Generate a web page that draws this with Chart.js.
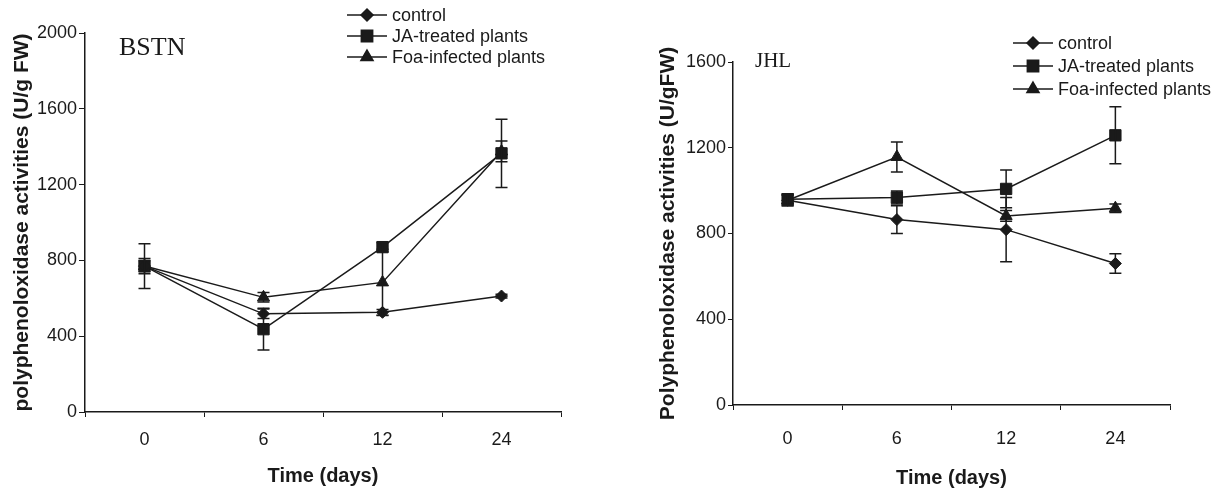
<!DOCTYPE html>
<html>
<head>
<meta charset="utf-8">
<script src="https://cdn.jsdelivr.net/npm/chart.js@4.4.0/dist/chart.umd.min.js"></script>
<style>
  body { margin: 0; background: #fff; width: 1222px; height: 490px; position: relative; overflow: hidden; }
  canvas { position: absolute; top: 0; }
  #bstn { left: 0; }
  #jhl { left: 611px; }
</style>
</head>
<body>
<canvas id="bstn" width="611" height="490"></canvas>
<canvas id="jhl" width="611" height="490"></canvas>
<script>
// data
const days = ['0', '6', '12', '24'];
const seriesNames = ['control', 'JA-treated plants', 'Foa-infected plants'];

const bstnControl = [770, 518, 526, 612];
const bstnControlErr = [118, 25, 15, 10];
const bstnJA = [770, 437, 870, 1365];
const bstnJAErr = [40, 110, 25, 180];
const bstnFoa = [770, 605, 684, 1375];
const bstnFoaErr = [30, 25, 175, 55];

const jhlControl = [955, 865, 818, 660];
const jhlControlErr = [25, 65, 150, 45];
const jhlJA = [960, 968, 1008, 1258];
const jhlJAErr = [25, 30, 88, 133];
const jhlFoa = [955, 1157, 882, 918];
const jhlFoaErr = [25, 70, 25, 20];

const markers = ['rectRot', 'rect', 'triangle'];
const markerSize = [6, 8, 7];
const ink = '#1a1a1a';
const sans = "'Liberation Sans', Arial, sans-serif";

const errorBars = {
  id: 'errorBars',
  afterDatasetsDraw(chart) {
    const ctx = chart.ctx;
    const y = chart.scales.y;
    ctx.save();
    ctx.strokeStyle = ink;
    ctx.lineWidth = 1.5;
    chart.data.datasets.forEach((ds, i) => {
      const meta = chart.getDatasetMeta(i);
      meta.data.forEach((pt, j) => {
        const v = ds.data[j], e = ds.errors[j];
        const top = y.getPixelForValue(v + e);
        const bot = y.getPixelForValue(v - e);
        ctx.beginPath();
        ctx.moveTo(pt.x, top); ctx.lineTo(pt.x, bot);
        ctx.moveTo(pt.x - 6, top); ctx.lineTo(pt.x + 6, top);
        ctx.moveTo(pt.x - 6, bot); ctx.lineTo(pt.x + 6, bot);
        ctx.stroke();
      });
    });
    ctx.restore();
  }
};

const sideLegend = {
  id: 'sideLegend',
  afterDraw(chart, args, opts) {
    const ctx = chart.ctx;
    ctx.save();
    ctx.font = '18px ' + sans;
    ctx.textBaseline = 'middle';
    ctx.fillStyle = ink;
    chart.data.datasets.forEach((ds, i) => {
      const yy = opts.y + i * opts.gap;
      ctx.strokeStyle = ink;
      ctx.lineWidth = 1.5;
      ctx.beginPath();
      ctx.moveTo(opts.x, yy); ctx.lineTo(opts.x + 40, yy);
      ctx.stroke();
      Chart.helpers.drawPoint(ctx, { pointStyle: ds.pointStyle, radius: ds.pointRadius, borderWidth: 1 }, opts.x + 20, yy);
      ctx.fillText(ds.label, opts.x + 45, yy + 1);
    });
    ctx.restore();
  }
};

const panelName = {
  id: 'panelName',
  afterDraw(chart, args, opts) {
    const ctx = chart.ctx;
    ctx.save();
    ctx.font = opts.size + "px 'Liberation Serif', 'Times New Roman', serif";
    ctx.fillStyle = ink;
    ctx.textBaseline = 'alphabetic';
    ctx.fillText(opts.text, opts.x, opts.y);
    ctx.restore();
  }
};

function makeSets(vals, errs) {
  return vals.map((v, i) => ({
    label: seriesNames[i],
    data: v,
    errors: errs[i],
    borderColor: ink,
    backgroundColor: ink,
    borderWidth: 1.5,
    pointStyle: markers[i],
    pointRadius: markerSize[i],
    pointBackgroundColor: ink,
    pointBorderColor: ink,
    pointBorderWidth: 1,
    tension: 0
  }));
}

function makeChart(id, sets, cfg) {
  return new Chart(document.getElementById(id), {
    type: 'line',
    data: { labels: days, datasets: sets },
    options: {
      responsive: false,
      animation: false,
      devicePixelRatio: 1,
      layout: { padding: cfg.pad },
      plugins: {
        legend: { display: false },
        tooltip: { enabled: false },
        sideLegend: cfg.legend,
        panelName: cfg.name
      },
      scales: {
        x: {
          type: 'category',
          offset: true,
          afterFit(s) { s.height = cfg.xHeight; },
          grid: { offset: true, drawOnChartArea: false, drawTicks: true, tickLength: 5, color: ink, lineWidth: 1 },
          border: { color: ink, width: 1.5 },
          ticks: { color: ink, font: { family: sans, size: 18 }, padding: cfg.xPad, maxRotation: 0 },
          title: { display: true, text: 'Time (days)', color: ink, font: { family: sans, size: 20, weight: 'bold' }, padding: 0 }
        },
        y: {
          min: 0,
          max: cfg.yMax,
          afterFit(s) { s.width = cfg.yWidth; },
          grid: { drawOnChartArea: false, drawTicks: true, tickLength: cfg.yTick, color: ink, lineWidth: 1 },
          border: { color: ink, width: 1.5 },
          ticks: { stepSize: 400, color: ink, font: { family: sans, size: 18 }, padding: 2, callback: v => String(v) },
          title: { display: true, text: cfg.yTitle, color: ink, font: { family: sans, size: 21, weight: 'bold' }, padding: 0 }
        }
      }
    },
    plugins: [errorBars, sideLegend, panelName]
  });
}

makeChart('bstn',
  makeSets([bstnControl, bstnJA, bstnFoa], [bstnControlErr, bstnJAErr, bstnFoaErr]), {
    pad: { left: 10, top: 33, right: 50, bottom: 2 },
    yWidth: 75, xHeight: 76, xPad: 12, yTick: 6, yMax: 2000,
    yTitle: 'polyphenoloxidase activities (U/g FW)',
    legend: { x: 347, y: 15, gap: 21 },
    name: { text: 'BSTN', x: 119, y: 55, size: 26 }
  });

makeChart('jhl',
  makeSets([jhlControl, jhlJA, jhlFoa], [jhlControlErr, jhlJAErr, jhlFoaErr]), {
    pad: { left: 45, top: 62, right: 52, bottom: 0 },
    yWidth: 77, xHeight: 85, xPad: 18, yTick: 5, yMax: 1600,
    yTitle: 'Polyphenoloxidase activities (U/gFW)',
    legend: { x: 402, y: 43, gap: 23 },
    name: { text: 'JHL', x: 144, y: 67, size: 21 }
  });
</script>
</body>
</html>
